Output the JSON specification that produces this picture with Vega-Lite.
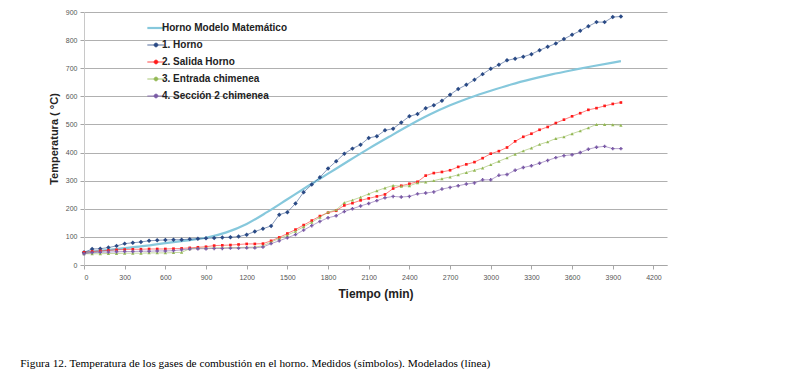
{
  "$schema": "https://vega.github.io/schema/vega-lite/v6.json",
  "width": 583,
  "height": 253,
  "autosize": {"type": "none"},
  "padding": {"left": 84, "top": 12, "right": 119, "bottom": 116},
  "background": "white",
  "config": {"view": {"stroke": null}, "font": "Liberation Sans"},
  "title": {
    "text": "Figura 12. Temperatura de los gases de combustión en el horno. Medidos (símbolos). Modelados (línea)",
    "orient": "bottom", "anchor": "start", "dx": -28, "offset": 59,
    "font": "Liberation Serif", "fontSize": 11.3, "fontWeight": "normal", "color": "#000000"
  },
  "datasets": {
    "rows": [
      {"s": "Horno Modelo Matemático", "t": 0, "v": 45}, {"s": "Horno Modelo Matemático", "t": 150, "v": 52}, {"s": "Horno Modelo Matemático", "t": 300, "v": 60}, {"s": "Horno Modelo Matemático", "t": 450, "v": 68}, {"s": "Horno Modelo Matemático", "t": 600, "v": 78}, {"s": "Horno Modelo Matemático", "t": 750, "v": 87}, {"s": "Horno Modelo Matemático", "t": 900, "v": 97}, {"s": "Horno Modelo Matemático", "t": 1050, "v": 116}, {"s": "Horno Modelo Matemático", "t": 1200, "v": 146}, {"s": "Horno Modelo Matemático", "t": 1350, "v": 188}, {"s": "Horno Modelo Matemático", "t": 1500, "v": 234}, {"s": "Horno Modelo Matemático", "t": 1650, "v": 280}, {"s": "Horno Modelo Matemático", "t": 1800, "v": 325}, {"s": "Horno Modelo Matemático", "t": 1950, "v": 370}, {"s": "Horno Modelo Matemático", "t": 2100, "v": 414}, {"s": "Horno Modelo Matemático", "t": 2250, "v": 456}, {"s": "Horno Modelo Matemático", "t": 2400, "v": 497}, {"s": "Horno Modelo Matemático", "t": 2550, "v": 535}, {"s": "Horno Modelo Matemático", "t": 2700, "v": 568}, {"s": "Horno Modelo Matemático", "t": 2850, "v": 596}, {"s": "Horno Modelo Matemático", "t": 3000, "v": 620}, {"s": "Horno Modelo Matemático", "t": 3150, "v": 642}, {"s": "Horno Modelo Matemático", "t": 3300, "v": 661}, {"s": "Horno Modelo Matemático", "t": 3450, "v": 678}, {"s": "Horno Modelo Matemático", "t": 3600, "v": 693}, {"s": "Horno Modelo Matemático", "t": 3750, "v": 707}, {"s": "Horno Modelo Matemático", "t": 3900, "v": 720}, {"s": "Horno Modelo Matemático", "t": 3960, "v": 725},

      {"s": "1. Horno", "t": 0, "v": 45}, {"s": "1. Horno", "t": 60, "v": 57}, {"s": "1. Horno", "t": 120, "v": 58}, {"s": "1. Horno", "t": 180, "v": 62}, {"s": "1. Horno", "t": 240, "v": 68}, {"s": "1. Horno", "t": 300, "v": 76}, {"s": "1. Horno", "t": 360, "v": 79}, {"s": "1. Horno", "t": 420, "v": 82}, {"s": "1. Horno", "t": 480, "v": 86}, {"s": "1. Horno", "t": 540, "v": 88}, {"s": "1. Horno", "t": 600, "v": 89}, {"s": "1. Horno", "t": 660, "v": 90}, {"s": "1. Horno", "t": 720, "v": 90}, {"s": "1. Horno", "t": 780, "v": 92}, {"s": "1. Horno", "t": 840, "v": 93}, {"s": "1. Horno", "t": 900, "v": 95}, {"s": "1. Horno", "t": 960, "v": 96}, {"s": "1. Horno", "t": 1020, "v": 98}, {"s": "1. Horno", "t": 1080, "v": 99}, {"s": "1. Horno", "t": 1140, "v": 101}, {"s": "1. Horno", "t": 1200, "v": 108}, {"s": "1. Horno", "t": 1260, "v": 119}, {"s": "1. Horno", "t": 1320, "v": 129}, {"s": "1. Horno", "t": 1380, "v": 139}, {"s": "1. Horno", "t": 1440, "v": 179}, {"s": "1. Horno", "t": 1500, "v": 188}, {"s": "1. Horno", "t": 1560, "v": 219}, {"s": "1. Horno", "t": 1620, "v": 259}, {"s": "1. Horno", "t": 1680, "v": 286}, {"s": "1. Horno", "t": 1740, "v": 312}, {"s": "1. Horno", "t": 1800, "v": 343}, {"s": "1. Horno", "t": 1860, "v": 369}, {"s": "1. Horno", "t": 1920, "v": 396}, {"s": "1. Horno", "t": 1980, "v": 414}, {"s": "1. Horno", "t": 2040, "v": 428}, {"s": "1. Horno", "t": 2100, "v": 452}, {"s": "1. Horno", "t": 2160, "v": 458}, {"s": "1. Horno", "t": 2220, "v": 479}, {"s": "1. Horno", "t": 2280, "v": 485}, {"s": "1. Horno", "t": 2340, "v": 507}, {"s": "1. Horno", "t": 2400, "v": 529}, {"s": "1. Horno", "t": 2460, "v": 537}, {"s": "1. Horno", "t": 2520, "v": 558}, {"s": "1. Horno", "t": 2580, "v": 568}, {"s": "1. Horno", "t": 2640, "v": 584}, {"s": "1. Horno", "t": 2700, "v": 606}, {"s": "1. Horno", "t": 2760, "v": 626}, {"s": "1. Horno", "t": 2820, "v": 641}, {"s": "1. Horno", "t": 2880, "v": 659}, {"s": "1. Horno", "t": 2940, "v": 679}, {"s": "1. Horno", "t": 3000, "v": 698}, {"s": "1. Horno", "t": 3060, "v": 712}, {"s": "1. Horno", "t": 3120, "v": 728}, {"s": "1. Horno", "t": 3180, "v": 734}, {"s": "1. Horno", "t": 3240, "v": 741}, {"s": "1. Horno", "t": 3300, "v": 750}, {"s": "1. Horno", "t": 3360, "v": 764}, {"s": "1. Horno", "t": 3420, "v": 776}, {"s": "1. Horno", "t": 3480, "v": 788}, {"s": "1. Horno", "t": 3540, "v": 804}, {"s": "1. Horno", "t": 3600, "v": 819}, {"s": "1. Horno", "t": 3660, "v": 833}, {"s": "1. Horno", "t": 3720, "v": 849}, {"s": "1. Horno", "t": 3780, "v": 864}, {"s": "1. Horno", "t": 3840, "v": 864}, {"s": "1. Horno", "t": 3900, "v": 882}, {"s": "1. Horno", "t": 3960, "v": 884},

      {"s": "2. Salida Horno", "t": 0, "v": 45}, {"s": "2. Salida Horno", "t": 60, "v": 48}, {"s": "2. Salida Horno", "t": 120, "v": 50}, {"s": "2. Salida Horno", "t": 180, "v": 52}, {"s": "2. Salida Horno", "t": 240, "v": 54}, {"s": "2. Salida Horno", "t": 300, "v": 55}, {"s": "2. Salida Horno", "t": 360, "v": 56}, {"s": "2. Salida Horno", "t": 420, "v": 56}, {"s": "2. Salida Horno", "t": 480, "v": 57}, {"s": "2. Salida Horno", "t": 540, "v": 57}, {"s": "2. Salida Horno", "t": 600, "v": 57}, {"s": "2. Salida Horno", "t": 660, "v": 58}, {"s": "2. Salida Horno", "t": 720, "v": 59}, {"s": "2. Salida Horno", "t": 780, "v": 61}, {"s": "2. Salida Horno", "t": 840, "v": 63}, {"s": "2. Salida Horno", "t": 900, "v": 65}, {"s": "2. Salida Horno", "t": 960, "v": 69}, {"s": "2. Salida Horno", "t": 1020, "v": 70}, {"s": "2. Salida Horno", "t": 1080, "v": 71}, {"s": "2. Salida Horno", "t": 1140, "v": 73}, {"s": "2. Salida Horno", "t": 1200, "v": 75}, {"s": "2. Salida Horno", "t": 1260, "v": 75}, {"s": "2. Salida Horno", "t": 1320, "v": 76}, {"s": "2. Salida Horno", "t": 1380, "v": 86}, {"s": "2. Salida Horno", "t": 1440, "v": 98}, {"s": "2. Salida Horno", "t": 1500, "v": 112}, {"s": "2. Salida Horno", "t": 1560, "v": 126}, {"s": "2. Salida Horno", "t": 1620, "v": 142}, {"s": "2. Salida Horno", "t": 1680, "v": 158}, {"s": "2. Salida Horno", "t": 1740, "v": 174}, {"s": "2. Salida Horno", "t": 1800, "v": 186}, {"s": "2. Salida Horno", "t": 1860, "v": 193}, {"s": "2. Salida Horno", "t": 1920, "v": 212}, {"s": "2. Salida Horno", "t": 1980, "v": 220}, {"s": "2. Salida Horno", "t": 2040, "v": 230}, {"s": "2. Salida Horno", "t": 2100, "v": 237}, {"s": "2. Salida Horno", "t": 2160, "v": 244}, {"s": "2. Salida Horno", "t": 2220, "v": 251}, {"s": "2. Salida Horno", "t": 2280, "v": 272}, {"s": "2. Salida Horno", "t": 2340, "v": 282}, {"s": "2. Salida Horno", "t": 2400, "v": 289}, {"s": "2. Salida Horno", "t": 2460, "v": 296}, {"s": "2. Salida Horno", "t": 2520, "v": 318}, {"s": "2. Salida Horno", "t": 2580, "v": 327}, {"s": "2. Salida Horno", "t": 2640, "v": 331}, {"s": "2. Salida Horno", "t": 2700, "v": 337}, {"s": "2. Salida Horno", "t": 2760, "v": 349}, {"s": "2. Salida Horno", "t": 2820, "v": 358}, {"s": "2. Salida Horno", "t": 2880, "v": 366}, {"s": "2. Salida Horno", "t": 2940, "v": 380}, {"s": "2. Salida Horno", "t": 3000, "v": 396}, {"s": "2. Salida Horno", "t": 3060, "v": 405}, {"s": "2. Salida Horno", "t": 3120, "v": 418}, {"s": "2. Salida Horno", "t": 3180, "v": 440}, {"s": "2. Salida Horno", "t": 3240, "v": 456}, {"s": "2. Salida Horno", "t": 3300, "v": 467}, {"s": "2. Salida Horno", "t": 3360, "v": 481}, {"s": "2. Salida Horno", "t": 3420, "v": 491}, {"s": "2. Salida Horno", "t": 3480, "v": 505}, {"s": "2. Salida Horno", "t": 3540, "v": 517}, {"s": "2. Salida Horno", "t": 3600, "v": 529}, {"s": "2. Salida Horno", "t": 3660, "v": 540}, {"s": "2. Salida Horno", "t": 3720, "v": 552}, {"s": "2. Salida Horno", "t": 3780, "v": 558}, {"s": "2. Salida Horno", "t": 3840, "v": 566}, {"s": "2. Salida Horno", "t": 3900, "v": 573}, {"s": "2. Salida Horno", "t": 3960, "v": 578},

      {"s": "3. Entrada chimenea", "t": 0, "v": 40}, {"s": "3. Entrada chimenea", "t": 60, "v": 40}, {"s": "3. Entrada chimenea", "t": 120, "v": 40}, {"s": "3. Entrada chimenea", "t": 180, "v": 41}, {"s": "3. Entrada chimenea", "t": 240, "v": 41}, {"s": "3. Entrada chimenea", "t": 300, "v": 42}, {"s": "3. Entrada chimenea", "t": 360, "v": 42}, {"s": "3. Entrada chimenea", "t": 420, "v": 42}, {"s": "3. Entrada chimenea", "t": 480, "v": 43}, {"s": "3. Entrada chimenea", "t": 540, "v": 43}, {"s": "3. Entrada chimenea", "t": 600, "v": 43}, {"s": "3. Entrada chimenea", "t": 660, "v": 44}, {"s": "3. Entrada chimenea", "t": 720, "v": 45}, {"s": "3. Entrada chimenea", "t": 780, "v": 58}, {"s": "3. Entrada chimenea", "t": 840, "v": 60}, {"s": "3. Entrada chimenea", "t": 900, "v": 60}, {"s": "3. Entrada chimenea", "t": 960, "v": 61}, {"s": "3. Entrada chimenea", "t": 1020, "v": 61}, {"s": "3. Entrada chimenea", "t": 1080, "v": 62}, {"s": "3. Entrada chimenea", "t": 1140, "v": 62}, {"s": "3. Entrada chimenea", "t": 1200, "v": 63}, {"s": "3. Entrada chimenea", "t": 1260, "v": 64}, {"s": "3. Entrada chimenea", "t": 1320, "v": 68}, {"s": "3. Entrada chimenea", "t": 1380, "v": 82}, {"s": "3. Entrada chimenea", "t": 1440, "v": 94}, {"s": "3. Entrada chimenea", "t": 1500, "v": 106}, {"s": "3. Entrada chimenea", "t": 1560, "v": 120}, {"s": "3. Entrada chimenea", "t": 1620, "v": 136}, {"s": "3. Entrada chimenea", "t": 1680, "v": 152}, {"s": "3. Entrada chimenea", "t": 1740, "v": 170}, {"s": "3. Entrada chimenea", "t": 1800, "v": 188}, {"s": "3. Entrada chimenea", "t": 1860, "v": 196}, {"s": "3. Entrada chimenea", "t": 1920, "v": 222}, {"s": "3. Entrada chimenea", "t": 1980, "v": 231}, {"s": "3. Entrada chimenea", "t": 2040, "v": 241}, {"s": "3. Entrada chimenea", "t": 2100, "v": 253}, {"s": "3. Entrada chimenea", "t": 2160, "v": 264}, {"s": "3. Entrada chimenea", "t": 2220, "v": 274}, {"s": "3. Entrada chimenea", "t": 2280, "v": 283}, {"s": "3. Entrada chimenea", "t": 2340, "v": 280}, {"s": "3. Entrada chimenea", "t": 2400, "v": 282}, {"s": "3. Entrada chimenea", "t": 2460, "v": 292}, {"s": "3. Entrada chimenea", "t": 2520, "v": 295}, {"s": "3. Entrada chimenea", "t": 2580, "v": 300}, {"s": "3. Entrada chimenea", "t": 2640, "v": 307}, {"s": "3. Entrada chimenea", "t": 2700, "v": 313}, {"s": "3. Entrada chimenea", "t": 2760, "v": 321}, {"s": "3. Entrada chimenea", "t": 2820, "v": 329}, {"s": "3. Entrada chimenea", "t": 2880, "v": 337}, {"s": "3. Entrada chimenea", "t": 2940, "v": 345}, {"s": "3. Entrada chimenea", "t": 3000, "v": 357}, {"s": "3. Entrada chimenea", "t": 3060, "v": 369}, {"s": "3. Entrada chimenea", "t": 3120, "v": 381}, {"s": "3. Entrada chimenea", "t": 3180, "v": 394}, {"s": "3. Entrada chimenea", "t": 3240, "v": 406}, {"s": "3. Entrada chimenea", "t": 3300, "v": 416}, {"s": "3. Entrada chimenea", "t": 3360, "v": 429}, {"s": "3. Entrada chimenea", "t": 3420, "v": 438}, {"s": "3. Entrada chimenea", "t": 3480, "v": 450}, {"s": "3. Entrada chimenea", "t": 3540, "v": 456}, {"s": "3. Entrada chimenea", "t": 3600, "v": 467}, {"s": "3. Entrada chimenea", "t": 3660, "v": 477}, {"s": "3. Entrada chimenea", "t": 3720, "v": 488}, {"s": "3. Entrada chimenea", "t": 3780, "v": 500}, {"s": "3. Entrada chimenea", "t": 3840, "v": 500}, {"s": "3. Entrada chimenea", "t": 3900, "v": 499}, {"s": "3. Entrada chimenea", "t": 3960, "v": 497},

      {"s": "4. Sección 2 chimenea", "t": 0, "v": 40}, {"s": "4. Sección 2 chimenea", "t": 60, "v": 44}, {"s": "4. Sección 2 chimenea", "t": 120, "v": 45}, {"s": "4. Sección 2 chimenea", "t": 180, "v": 46}, {"s": "4. Sección 2 chimenea", "t": 240, "v": 47}, {"s": "4. Sección 2 chimenea", "t": 300, "v": 48}, {"s": "4. Sección 2 chimenea", "t": 360, "v": 48}, {"s": "4. Sección 2 chimenea", "t": 420, "v": 49}, {"s": "4. Sección 2 chimenea", "t": 480, "v": 49}, {"s": "4. Sección 2 chimenea", "t": 540, "v": 50}, {"s": "4. Sección 2 chimenea", "t": 600, "v": 50}, {"s": "4. Sección 2 chimenea", "t": 660, "v": 51}, {"s": "4. Sección 2 chimenea", "t": 720, "v": 54}, {"s": "4. Sección 2 chimenea", "t": 780, "v": 57}, {"s": "4. Sección 2 chimenea", "t": 840, "v": 58}, {"s": "4. Sección 2 chimenea", "t": 900, "v": 58}, {"s": "4. Sección 2 chimenea", "t": 960, "v": 59}, {"s": "4. Sección 2 chimenea", "t": 1020, "v": 59}, {"s": "4. Sección 2 chimenea", "t": 1080, "v": 60}, {"s": "4. Sección 2 chimenea", "t": 1140, "v": 60}, {"s": "4. Sección 2 chimenea", "t": 1200, "v": 61}, {"s": "4. Sección 2 chimenea", "t": 1260, "v": 61}, {"s": "4. Sección 2 chimenea", "t": 1320, "v": 64}, {"s": "4. Sección 2 chimenea", "t": 1380, "v": 76}, {"s": "4. Sección 2 chimenea", "t": 1440, "v": 86}, {"s": "4. Sección 2 chimenea", "t": 1500, "v": 97}, {"s": "4. Sección 2 chimenea", "t": 1560, "v": 108}, {"s": "4. Sección 2 chimenea", "t": 1620, "v": 124}, {"s": "4. Sección 2 chimenea", "t": 1680, "v": 140}, {"s": "4. Sección 2 chimenea", "t": 1740, "v": 155}, {"s": "4. Sección 2 chimenea", "t": 1800, "v": 168}, {"s": "4. Sección 2 chimenea", "t": 1860, "v": 175}, {"s": "4. Sección 2 chimenea", "t": 1920, "v": 190}, {"s": "4. Sección 2 chimenea", "t": 1980, "v": 200}, {"s": "4. Sección 2 chimenea", "t": 2040, "v": 210}, {"s": "4. Sección 2 chimenea", "t": 2100, "v": 219}, {"s": "4. Sección 2 chimenea", "t": 2160, "v": 229}, {"s": "4. Sección 2 chimenea", "t": 2220, "v": 239}, {"s": "4. Sección 2 chimenea", "t": 2280, "v": 244}, {"s": "4. Sección 2 chimenea", "t": 2340, "v": 242}, {"s": "4. Sección 2 chimenea", "t": 2400, "v": 244}, {"s": "4. Sección 2 chimenea", "t": 2460, "v": 253}, {"s": "4. Sección 2 chimenea", "t": 2520, "v": 256}, {"s": "4. Sección 2 chimenea", "t": 2580, "v": 260}, {"s": "4. Sección 2 chimenea", "t": 2640, "v": 270}, {"s": "4. Sección 2 chimenea", "t": 2700, "v": 276}, {"s": "4. Sección 2 chimenea", "t": 2760, "v": 282}, {"s": "4. Sección 2 chimenea", "t": 2820, "v": 288}, {"s": "4. Sección 2 chimenea", "t": 2880, "v": 292}, {"s": "4. Sección 2 chimenea", "t": 2940, "v": 303}, {"s": "4. Sección 2 chimenea", "t": 3000, "v": 303}, {"s": "4. Sección 2 chimenea", "t": 3060, "v": 319}, {"s": "4. Sección 2 chimenea", "t": 3120, "v": 322}, {"s": "4. Sección 2 chimenea", "t": 3180, "v": 337}, {"s": "4. Sección 2 chimenea", "t": 3240, "v": 347}, {"s": "4. Sección 2 chimenea", "t": 3300, "v": 353}, {"s": "4. Sección 2 chimenea", "t": 3360, "v": 362}, {"s": "4. Sección 2 chimenea", "t": 3420, "v": 372}, {"s": "4. Sección 2 chimenea", "t": 3480, "v": 382}, {"s": "4. Sección 2 chimenea", "t": 3540, "v": 389}, {"s": "4. Sección 2 chimenea", "t": 3600, "v": 392}, {"s": "4. Sección 2 chimenea", "t": 3660, "v": 400}, {"s": "4. Sección 2 chimenea", "t": 3720, "v": 412}, {"s": "4. Sección 2 chimenea", "t": 3780, "v": 419}, {"s": "4. Sección 2 chimenea", "t": 3840, "v": 422}, {"s": "4. Sección 2 chimenea", "t": 3900, "v": 414}, {"s": "4. Sección 2 chimenea", "t": 3960, "v": 414}
    ]
  },
  "data": {"name": "rows"},
  "encoding": {
    "x": {
      "field": "t", "type": "quantitative",
      "scale": {"domain": [0, 4300], "nice": false, "zero": false},
      "axis": {
        "title": "Tiempo  (min)", "values": [0, 300, 600, 900, 1200, 1500, 1800, 2100, 2400, 2700, 3000, 3300, 3600, 3900, 4200],
        "format": "d",
        "grid": false, "domainColor": "#a6a6a6", "tickColor": "#a6a6a6", "tickSize": 4,
        "labelFont": "Liberation Sans", "labelFontSize": 7, "labelColor": "#555555", "labelPadding": 4,
        "titleFont": "Liberation Sans", "titleFontSize": 12, "titleFontWeight": "bold", "titleColor": "#222222", "titlePadding": 8
      }
    },
    "y": {
      "field": "v", "type": "quantitative",
      "scale": {"domain": [0, 900], "nice": false},
      "axis": {
        "title": "Temperatura ( °C)", "values": [0, 100, 200, 300, 400, 500, 600, 700, 800, 900],
        "format": "d",
        "grid": true, "gridColor": "#b0b0b0", "gridWidth": 1,
        "domainColor": "#c8c8c8", "tickColor": "#a6a6a6", "tickSize": 4,
        "labelFont": "Liberation Sans", "labelFontSize": 7, "labelColor": "#555555", "labelPadding": 3,
        "titleFont": "Liberation Sans", "titleFontSize": 11, "titleFontWeight": "bold", "titleColor": "#222222", "titlePadding": 6
      }
    },
    "color": {
      "field": "s", "type": "nominal",
      "scale": {
        "domain": ["Horno Modelo Matemático", "1. Horno", "2. Salida Horno", "3. Entrada chimenea", "4. Sección 2 chimenea"],
        "range": ["#86c8dc", "#2a4a85", "#ff1a1a", "#93b854", "#7a5aa6"]
      },
      "legend": {
        "orient": "none", "legendX": 67, "legendY": 11, "title": null, "padding": 0,
        "labelFont": "Liberation Sans", "labelFontWeight": "bold", "labelFontSize": 10, "labelColor": "#222222",
        "labelOffset": 1, "symbolSize": 300, "rowPadding": 7, "symbolOpacity": 1,
        "symbolType": "stroke",
        "encode": {
          "symbols": {
            "update": {
              "shape": {"signal": "datum.value === 'Horno Modelo Matemático' ? 'M-1,0L1,0' : 'M-1,0L1,0M-0.22,0a0.22,0.22 0 1,0 0.44,0a0.22,0.22 0 1,0 -0.44,0'"},
              "stroke": {"scale": "color", "field": "value"},
              "fill": {"scale": "color", "field": "value"},
              "strokeWidth": {"signal": "datum.value === 'Horno Modelo Matemático' ? 2.2 : 0.8"},
              "opacity": {"value": 1}
            }
          }
        }
      }
    }
  },
  "layer": [
    {
      "transform": [{"filter": "datum.s === 'Horno Modelo Matemático'"}],
      "mark": {"type": "line", "interpolate": "monotone", "strokeWidth": 2.2}
    },
    {
      "transform": [{"filter": "datum.s !== 'Horno Modelo Matemático'"}],
      "mark": {"type": "line", "strokeWidth": 1, "opacity": 0.55}
    },
    {
      "transform": [{"filter": "datum.s !== 'Horno Modelo Matemático'"}],
      "mark": {"type": "point", "filled": true, "opacity": 1},
      "encoding": {
        "shape": {
          "field": "s", "type": "nominal",
          "scale": {"domain": ["1. Horno", "2. Salida Horno", "3. Entrada chimenea", "4. Sección 2 chimenea"], "range": ["diamond", "square", "triangle-up", "cross"]},
          "legend": null
        },
        "size": {
          "field": "s", "type": "nominal",
          "scale": {"type": "ordinal", "domain": ["1. Horno", "2. Salida Horno", "3. Entrada chimenea", "4. Sección 2 chimenea"], "range": [20, 7, 11, 12]},
          "legend": null
        }
      }
    }
  ]
}
